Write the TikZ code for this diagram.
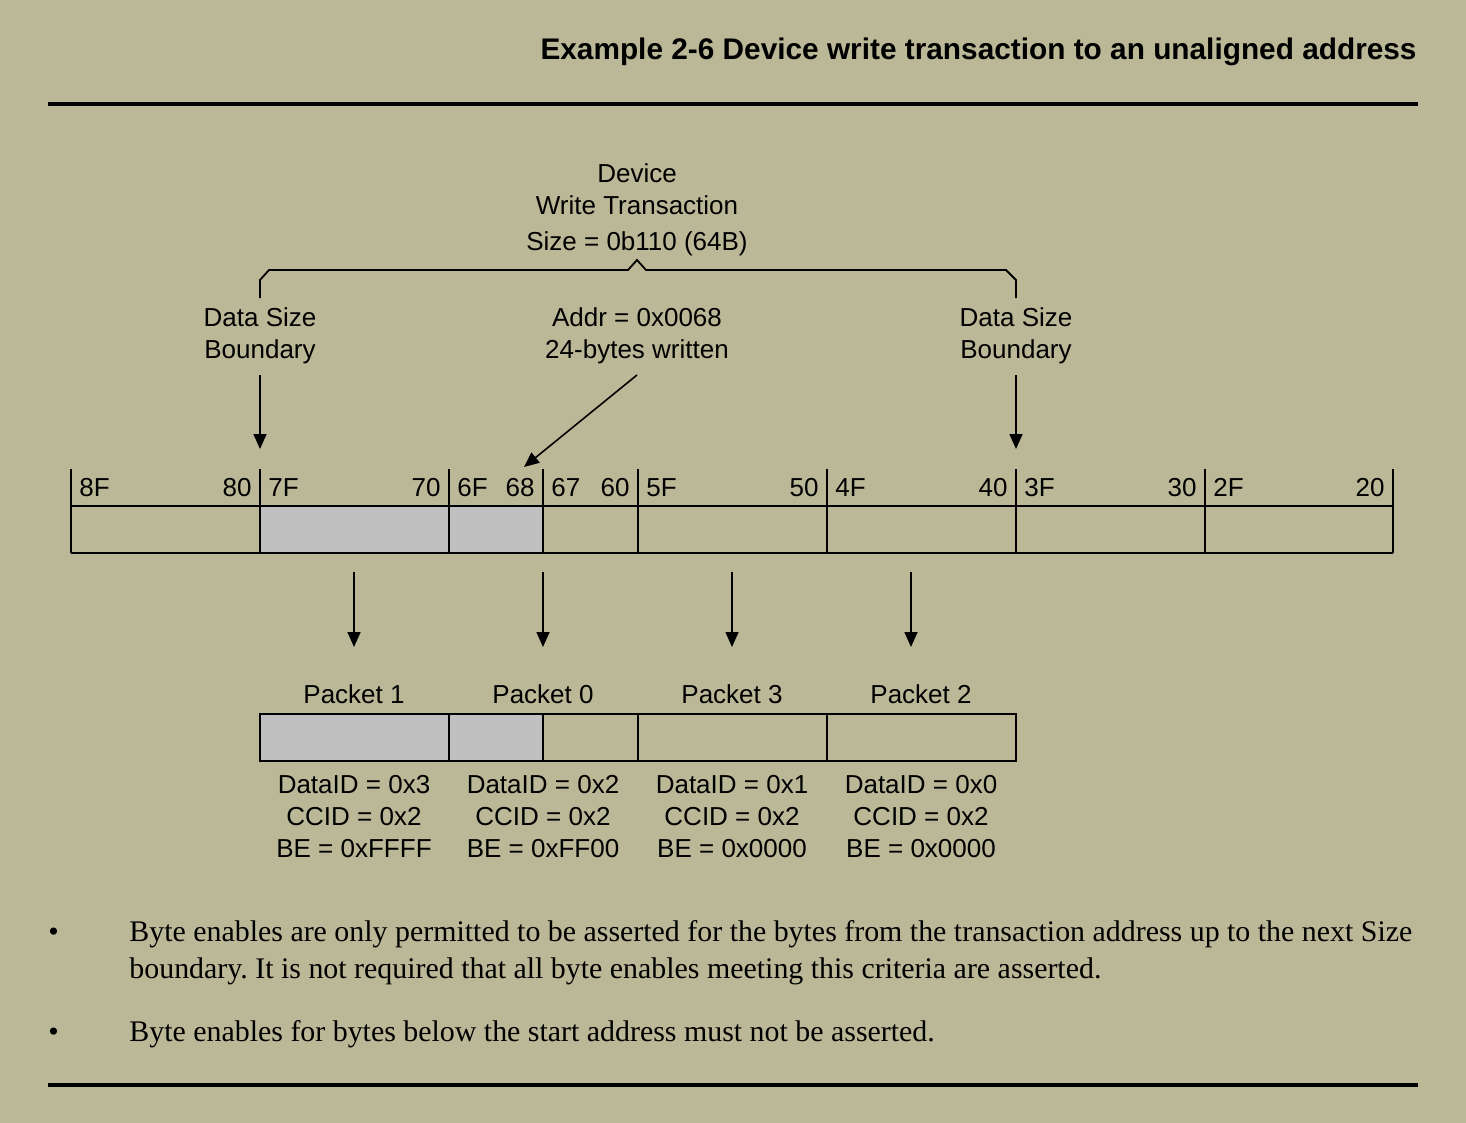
\documentclass[tikz,border=0pt]{standalone}
\usepackage{fontspec}
\setmainfont{Liberation Serif}
\setsansfont{Liberation Sans}
\usetikzlibrary{arrows.meta}
\definecolor{bg}{RGB}{186,184,151}
\definecolor{cellgray}{RGB}{192,192,192}
\frenchspacing
\begin{document}
\begin{tikzpicture}[x=0.5pt,y=-0.5pt,
  lbl/.style={font=\sffamily\fontsize{13}{16}\selectfont, inner sep=0pt, align=center},
  addr/.style={font=\sffamily\fontsize{13}{16}\selectfont, inner sep=0pt},
  body/.style={font=\fontsize{14.95}{18}\selectfont, inner sep=0pt, anchor=base west},
  rule/.style={line width=2pt},
  box/.style={line width=0.9pt},
  arr/.style={line width=0.8pt, -{Triangle[length=7.5pt,width=6.5pt]}}
]
% page background
\fill[bg] (0,0) rectangle (1466,1123);
\useasboundingbox (0,0) rectangle (1466,1123);

% heading
\node[font=\sffamily\bfseries\fontsize{14.9}{18}\selectfont, inner sep=0pt, anchor=base east] (title) at (1417,60) {Example 2-6 Device write transaction to an unaligned address};
\coordinate (r1a) at (48,104); \coordinate (r1b) at (1418,104);
\draw[rule] (r1a) -- (r1b);

% transaction labels
\node[lbl] (dev) at (637,189) {Device\\Write Transaction};
\node[lbl] (size) at (637,244) {Size = 0b110 (64B)};

% brace spanning the 64B transaction
\draw[box] (260,298) -- (260,280) -- (269,270) -- (628,270) -- (637,260) -- (646,270)
  -- (1006,270) -- (1016,280) -- (1016,298);

\node[lbl] (dsl) at (260,336) {Data Size\\Boundary};
\node[lbl] (dsr) at (1016,336) {Data Size\\Boundary};
\node[lbl] (adr) at (637,336) {Addr = 0x0068\\24-bytes written};

\coordinate (dslA) at (260,375); \coordinate (dslB) at (260,449);
\coordinate (dsrA) at (1016,375); \coordinate (dsrB) at (1016,449);
\coordinate (adrA) at (637,375); \coordinate (adrB) at (524,467);
\draw[arr] (dslA) -- (dslB);
\draw[arr] (dsrA) -- (dsrB);
\draw[arr] (adrA) -- (adrB);

% address bar
\fill[cellgray] (260,506) rectangle (543,553);
\draw[box] (71,506) -- (1393,506) (71,553) -- (1393,553);
\foreach \x in {71,260,449,543,638,827,1016,1205,1393}
  \draw[box] (\x,469) -- (\x,553);

% byte address labels
\foreach \l/\r/\hi/\lo in {71/260/8F/80, 260/449/7F/70, 449/543/6F/68, 543/638/67/60,
  638/827/5F/50, 827/1016/4F/40, 1016/1205/3F/30, 1205/1393/2F/20} {
  \node[addr, anchor=base west] (hi\hi) at (\l+8,496) {\hi};
  \node[addr, anchor=base east] (lo\lo) at (\r-8,496) {\lo};
}

% split into packets
\foreach \x/\n in {354/a, 543/b, 732/c, 911/d} {
  \coordinate (p\n A) at (\x,572);
  \coordinate (p\n B) at (\x,647);
  \draw[arr] (p\n A) -- (p\n B);
}

\fill[cellgray] (260,714) rectangle (543,761);
\draw[box] (260,714) rectangle (1016,761);
\foreach \x in {449,543,638,827}
  \draw[box] (\x,714) -- (\x,761);

\node[lbl] (pk1) at (354,694) {Packet 1};
\node[lbl] (pk0) at (543,694) {Packet 0};
\node[lbl] (pk3) at (732,694) {Packet 3};
\node[lbl] (pk2) at (921,694) {Packet 2};

\node[lbl] (in1) at (354,817) {DataID = 0x3\\CCID = 0x2\\BE = 0xFFFF};
\node[lbl] (in0) at (543,817) {DataID = 0x2\\CCID = 0x2\\BE = 0xFF00};
\node[lbl] (in3) at (732,817) {DataID = 0x1\\CCID = 0x2\\BE = 0x0000};
\node[lbl] (in2) at (921,817) {DataID = 0x0\\CCID = 0x2\\BE = 0x0000};

% rules text
\node[body] (b1) at (48,941) {•};
\node[body] (t1a) at (129,941) {Byte enables are only permitted to be asserted for the bytes from the transaction address up to the next Size};
\node[body] (t1b) at (129,978) {boundary. It is not required that all byte enables meeting this criteria are asserted.};
\node[body] (b2) at (48,1041) {•};
\node[body] (t2) at (129,1041) {Byte enables for bytes below the start address must not be asserted.};

\coordinate (r2a) at (48,1085); \coordinate (r2b) at (1418,1085);
\draw[rule] (r2a) -- (r2b);
\end{tikzpicture}
\end{document}
